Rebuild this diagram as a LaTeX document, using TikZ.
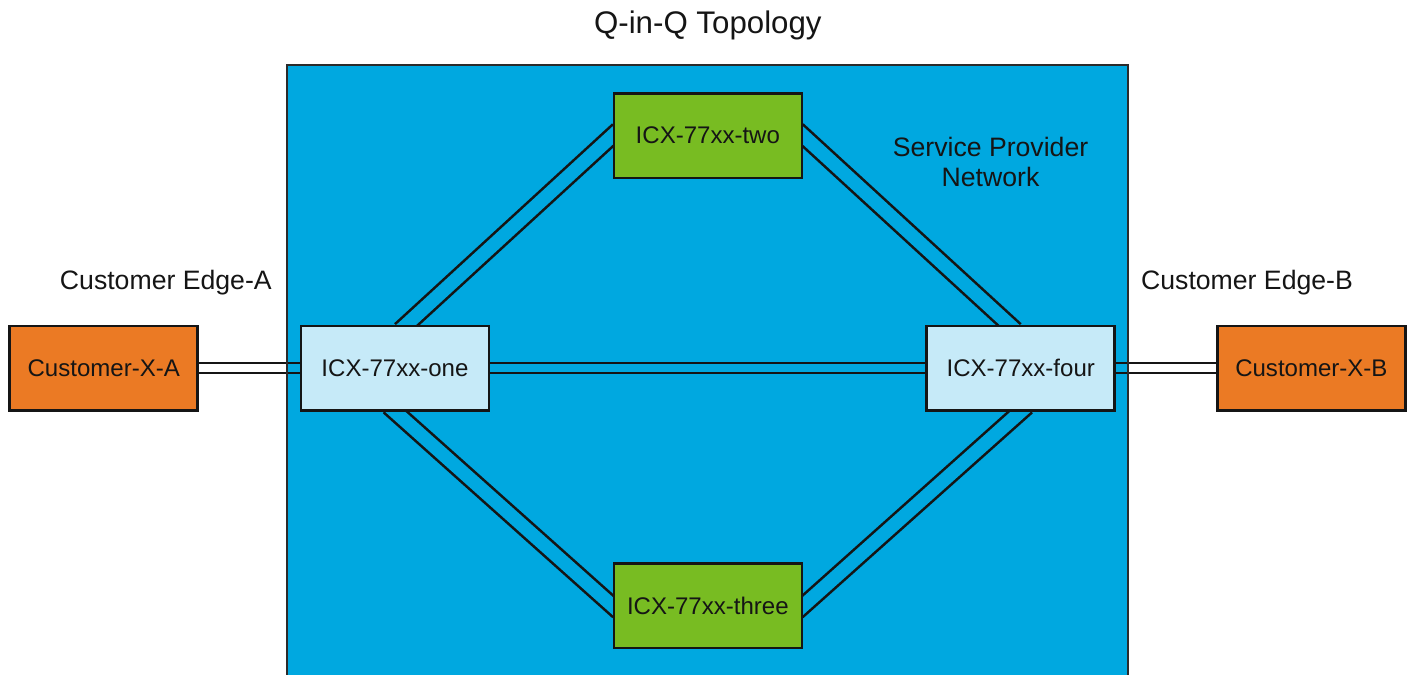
\documentclass[tikz,border=0pt]{standalone}
\usepackage{fontspec}
\setsansfont{Liberation Sans}
\usetikzlibrary{positioning}
\definecolor{cblue}{HTML}{00A8E0}
\definecolor{clight}{HTML}{C6EAF8}
\definecolor{cgreen}{HTML}{78BC22}
\definecolor{corange}{HTML}{EB7A24}
\definecolor{cink}{HTML}{151515}
\definecolor{cframe}{HTML}{2B2B2B}
\pgfdeclarelayer{bg}
\pgfdeclarelayer{wires}
\pgfsetlayers{bg,wires,main}
\tikzset{
  every picture/.style={font=\sffamily, line width=1pt},
  box/.style={draw=cink, fill=#1, line width=1.3pt, minimum width=3.3cm, minimum height=1.48cm, inner sep=0pt, text=cink, font=\sffamily\fontsize{12}{14}\selectfont},
  box/.default=clight,
  link/.style={draw=cink, line width=1.3pt, double=#1, double distance=3.7pt, shorten <=-4pt, shorten >=-4pt},
  link/.default=cblue,
  wide/.style={double distance=6.7pt},
  spnet/.style={draw=cframe, fill=cblue, line width=1.1pt},
  title/.style={font=\sffamily\fontsize{15.6}{18}\selectfont, text=cink},
  edgetext/.style={font=\sffamily\fontsize{13.3}{15}\selectfont, text=cink, align=center},
}

\begin{document}
\begin{tikzpicture}
  \useasboundingbox (-12.42,-5.37) rectangle (12.32,6.46);
  \coordinate (spsw) at (-7.38,-6);
  \coordinate (spne) at (7.37,5.32);
  \begin{pgfonlayer}{bg}
    \draw[spnet] (spsw) rectangle (spne);
  \end{pgfonlayer}
  \node[title] (head) at (0,6.02) {Q-in-Q Topology};
  \node[edgetext] (spn) at (4.96,3.61) {Service Provider\\Network};
  \node[edgetext] (ea) at (-9.51,1.51) {Customer Edge-A};
  \node[edgetext] (eb) at (9.46,1.51) {Customer Edge-B};
  % customer sites
  \node[box=corange] (ca) at (-10.6,0) {Customer-X-A};
  \node[box=corange] (cb) at (10.59,0) {Customer-X-B};
  % provider switches
  \foreach \n/\x/\y/\c in {one/-5.49/0/clight, two/0/4.08/cgreen, three/0/-4.17/cgreen, four/5.49/0/clight}
    \node[box=\c] (\n) at (\x,\y) {ICX-77xx-\n};
  \begin{pgfonlayer}{wires}
    \draw[link] (one) -- (four);
    \foreach \a/\s/\b/\t in {one.north/0.2/two.west/0, two.east/0/four.north/-0.2, one.south/0/three.west/0, three.east/0/four.south/0}
      \draw[link, wide] ([xshift=\s cm]\a) -- ([xshift=\t cm]\b);
    \draw[link=white] (ca) -- (one);
    \draw[link=white] (four) -- (cb);
    \begin{scope}
      \clip (spsw) rectangle (spne);
      \draw[link] (ca) -- (one);
      \draw[link] (four) -- (cb);
    \end{scope}
    \draw[spnet, fill=none] (spsw) rectangle (spne);
  \end{pgfonlayer}
\end{tikzpicture}
\end{document}
